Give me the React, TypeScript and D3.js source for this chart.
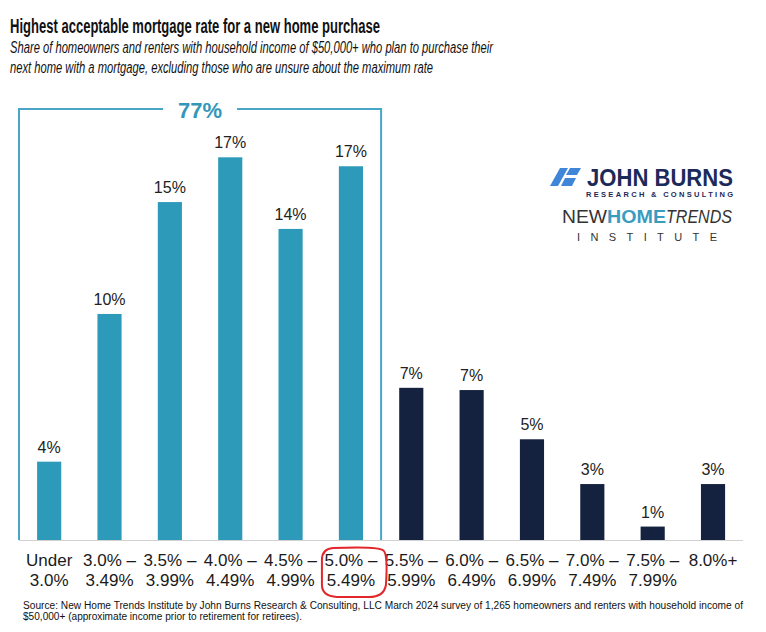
import React from "react";
import * as d3 from "d3";

const categoryLine1 = ["Under", "3.0% –", "3.5% –", "4.0% –", "4.5% –", "5.0% –", "5.5% –", "6.0% –", "6.5% –", "7.0% –", "7.5% –", "8.0%+"];
const categoryLine2 = ["3.0%", "3.49%", "3.99%", "4.49%", "4.99%", "5.49%", "5.99%", "6.49%", "6.99%", "7.49%", "7.99%", ""];
const values = [3.5, 10.1, 15.1, 17.1, 13.9, 16.7, 6.8, 6.7, 4.5, 2.5, 0.6, 2.5];
const valueLabels = ["4%", "10%", "15%", "17%", "14%", "17%", "7%", "7%", "5%", "3%", "1%", "3%"];
const bracketCount = 6;
const bracketLabel = "77%";
const highlightedCategory = 5;

const TITLE = "Highest acceptable mortgage rate for a new home purchase";
const SUB1 = "Share of homeowners and renters with household income of $50,000+ who plan to purchase their";
const SUB2 = "next home with a mortgage, excluding those who are unsure about the maximum rate";
const SRC1 = "Source: New Home Trends Institute by John Burns Research & Consulting, LLC March 2024 survey of 1,265 homeowners and renters with household income of";
const SRC2 = "$50,000+ (approximate income prior to retirement for retirees).";

const TEAL = "#2e9ab9";
const NAVY = "#14213f";
const BOX = "#4aa6c6";
const FONT = "'Liberation Sans', Arial, sans-serif";

export default function App() {
  const W = 766, H = 632;
  const baseY = 540;
  const x = d3.scaleBand<number>()
    .domain(d3.range(values.length))
    .range([19, 743.2])
    .paddingInner(0.6)
    .paddingOuter(0.3);
  const y = d3.scaleLinear().domain([0, 20]).range([baseY, baseY - 20 * 22.38]);
  const bw = x.bandwidth();
  const gap = (x.step() - bw) / 2;
  const boxL = (x(0) as number) - gap;
  const boxR = (x(bracketCount - 1) as number) + bw + gap;
  const boxTop = 109;
  const boxMid = (boxL + boxR) / 2;
  const hx = (x(highlightedCategory) as number) + bw / 2;

  return (
    <svg width={W} height={H} style={{ position: "absolute", left: 0, top: 0, background: "#fff" }} fontFamily={FONT}>
      <rect width={W} height={H} fill="#fff" />
      {/* title */}
      <text x={10} y={33} fontSize={19.5} fontWeight="bold" fill="#111" textLength={370} lengthAdjust="spacingAndGlyphs">{TITLE}</text>
      <text x={10} y={53} fontSize={16} fontStyle="italic" fill="#111" textLength={483} lengthAdjust="spacingAndGlyphs">{SUB1}</text>
      <text x={10} y={73} fontSize={16} fontStyle="italic" fill="#111" textLength={423} lengthAdjust="spacingAndGlyphs">{SUB2}</text>

      {/* bracket box */}
      <path d={`M${boxMid - 37},${boxTop} H${boxL} V${baseY} M${boxMid + 37},${boxTop} H${boxR} V${baseY}`} fill="none" stroke={BOX} strokeWidth={2} />
      <text x={boxMid} y={118} textAnchor="middle" fontSize={22} fontWeight="bold" fill="#3397bb">{bracketLabel}</text>

      {/* baseline */}
      <line x1={19} x2={743} y1={baseY + 0.5} y2={baseY + 0.5} stroke="#d2d2d2" strokeWidth={1} />

      {/* bars */}
      {values.map((v, i) => (
        <g key={i}>
          <rect x={x(i)} y={y(v)} width={bw} height={baseY - y(v)} fill={i < bracketCount ? TEAL : NAVY} />
          <text x={(x(i) as number) + bw / 2} y={y(v) - 9} textAnchor="middle" fontSize={16} fill="#222">{valueLabels[i]}</text>
          <text x={(x(i) as number) + bw / 2} y={566} textAnchor="middle" fontSize={17} fill="#1a1a1a">{categoryLine1[i]}</text>
          <text x={(x(i) as number) + bw / 2} y={586} textAnchor="middle" fontSize={17} fill="#1a1a1a">{categoryLine2[i]}</text>
        </g>
      ))}

      {/* red annotation */}
      <path d={`M${hx - 18},${548} Q${hx + 30},${546} ${hx + 33},${551} Q${hx + 37},${556} ${hx + 35},${585} Q${hx + 33},${597} ${hx + 18},${597} L${hx - 14},${597} Q${hx - 29},${596} ${hx - 29},${585} L${hx - 29},${560} Q${hx - 29},${549} ${hx - 18},${548} Z`} fill="none" stroke="#e3262b" strokeWidth={2} />

      {/* logo */}
      <g fill="#3f86d8">
        <polygon points="560,168 568,168 558,186 550,186" />
        <polygon points="570,168 581,168 577,175 566,175" />
        <polygon points="565,178 576,178 572,186 561,186" />
      </g>
      <text x={587} y={186} fontSize={23} fontWeight="bold" fill="#1b2a5a" textLength={146} lengthAdjust="spacingAndGlyphs">JOHN BURNS</text>
      <text x={586} y={197} fontSize={7.5} fontWeight="bold" fill="#1b2a5a" textLength={147} lengthAdjust="spacing">RESEARCH &amp; CONSULTING</text>
      <text x={562} y={223} fontSize={18} fill="#333" fontWeight="300" textLength={45} lengthAdjust="spacingAndGlyphs">NEW</text>
      <text x={607} y={223} fontSize={18} fill="#3a9cbf" fontWeight="bold" textLength={59} lengthAdjust="spacingAndGlyphs">HOME</text>
      <text x={666} y={223} fontSize={18} fill="#333" fontStyle="italic" textLength={66} lengthAdjust="spacingAndGlyphs">TRENDS</text>
      <text x={577} y={241} fontSize={11} fill="#333" textLength={140} lengthAdjust="spacing">INSTITUTE</text>

      {/* source */}
      <text x={23} y={609} fontSize={10} fill="#111" textLength={720} lengthAdjust="spacingAndGlyphs">{SRC1}</text>
      <text x={23} y={620} fontSize={10} fill="#111" textLength={279} lengthAdjust="spacingAndGlyphs">{SRC2}</text>
    </svg>
  );
}
